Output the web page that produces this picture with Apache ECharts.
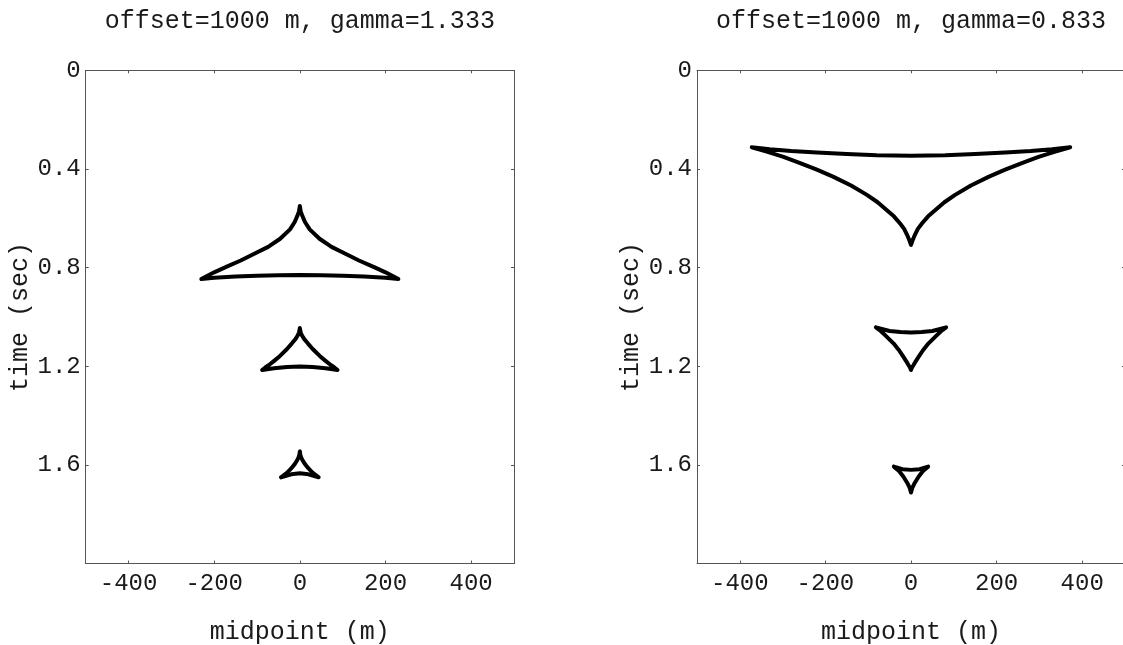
<!DOCTYPE html>
<html>
<head>
<meta charset="utf-8">
<title>Caustics</title>
<script src="https://cdn.jsdelivr.net/npm/echarts@6/dist/echarts.min.js"></script>
<style>
  html, body { margin: 0; padding: 0; background: #fff; }
  #chart { width: 1123px; height: 645px; }
</style>
</head>
<body>
<div id="chart"></div>
<script>
// Axis ticks and labels
const midpointTicks = [-400, -200, 0, 200, 400];
const timeTicks = [0, 0.4, 0.8, 1.2, 1.6];
const panelTitles = ['offset=1000 m, gamma=1.333', 'offset=1000 m, gamma=0.833'];

// Triplication loops, [midpoint (m), time (sec)], each traced as a closed curve
// gamma = 1.333 : cusp pointing up
const loopA1 = [
  [-230, 0.846], [-200, 0.841], [-150, 0.836], [-100, 0.833], [-50, 0.831], [0, 0.830],
  [50, 0.831], [100, 0.833], [150, 0.836], [200, 0.841], [230, 0.846],
  [200, 0.819], [172, 0.797], [138, 0.771], [104, 0.742], [74, 0.716], [46, 0.683],
  [23, 0.645], [12, 0.615], [6, 0.591], [2, 0.572], [0, 0.550],
  [-2, 0.572], [-6, 0.591], [-12, 0.615], [-23, 0.645], [-46, 0.683], [-74, 0.716],
  [-104, 0.742], [-138, 0.771], [-172, 0.797], [-200, 0.819], [-230, 0.846]
];
const loopA2 = [
  [-88, 1.215], [-60, 1.208], [-30, 1.203], [0, 1.201], [30, 1.203], [60, 1.208], [88, 1.215],
  [80, 1.204], [70, 1.192], [60, 1.178], [47, 1.159], [30, 1.130], [19, 1.108],
  [10, 1.089], [5, 1.075], [2, 1.063], [0, 1.045],
  [-2, 1.063], [-5, 1.075], [-10, 1.089], [-19, 1.108], [-30, 1.130], [-47, 1.159],
  [-60, 1.178], [-70, 1.192], [-80, 1.204], [-88, 1.215]
];
const loopA3 = [
  [-44, 1.650], [-20, 1.638], [0, 1.634], [20, 1.638], [44, 1.650],
  [38, 1.642], [31, 1.633], [24, 1.621], [17, 1.608], [11, 1.594], [6, 1.580],
  [3, 1.569], [1, 1.558], [0, 1.545],
  [-1, 1.558], [-3, 1.569], [-6, 1.580], [-11, 1.594], [-17, 1.608], [-24, 1.621],
  [-31, 1.633], [-38, 1.642], [-44, 1.650]
];
// gamma = 0.833 : cusp pointing down
const loopB1 = [
  [-372, 0.312], [-330, 0.320], [-280, 0.327], [-220, 0.333], [-150, 0.339], [-80, 0.344], [0, 0.346],
  [80, 0.344], [150, 0.339], [220, 0.333], [280, 0.327], [330, 0.320], [372, 0.312],
  [337, 0.330], [298, 0.351], [259, 0.376], [220, 0.403], [181, 0.432], [140, 0.467],
  [103, 0.505], [78, 0.535], [57, 0.566], [40, 0.592], [26, 0.620], [16, 0.643],
  [10, 0.664], [4, 0.688], [0, 0.708],
  [-4, 0.688], [-10, 0.664], [-16, 0.643], [-26, 0.620], [-40, 0.592], [-57, 0.566],
  [-78, 0.535], [-103, 0.505], [-140, 0.467], [-181, 0.432], [-220, 0.403], [-259, 0.376],
  [-298, 0.351], [-337, 0.330], [-372, 0.312]
];
const loopB2 = [
  [-82, 1.042], [-50, 1.057], [-25, 1.061], [0, 1.063], [25, 1.061], [50, 1.057], [82, 1.042],
  [70, 1.058], [57, 1.080], [41, 1.107], [28, 1.135], [18, 1.161], [11, 1.180],
  [6, 1.195], [2, 1.206], [0, 1.215],
  [-2, 1.206], [-6, 1.195], [-11, 1.180], [-18, 1.161], [-28, 1.135], [-41, 1.107],
  [-57, 1.080], [-70, 1.058], [-82, 1.042]
];
const loopB3 = [
  [-40, 1.607], [-20, 1.617], [0, 1.620], [20, 1.617], [40, 1.607],
  [28, 1.625], [18, 1.647], [9, 1.672], [3, 1.693], [0, 1.712],
  [-3, 1.693], [-9, 1.672], [-18, 1.647], [-28, 1.625], [-40, 1.607]
];

const panels = [
  { loops: [loopA1, loopA2, loopA3], grid: { left: 85.7, top: 70.3, width: 428.3, height: 493.3 } },
  { loops: [loopB1, loopB2, loopB3], grid: { left: 697, top: 70.3, width: 428, height: 493.3 } }
];

const FONT = "'Liberation Mono', 'DejaVu Sans Mono', monospace";
const TEXT = '#1a1a1a';
const FRAME = '#555';

const frameLine = { show: true, onZero: false, lineStyle: { color: FRAME, width: 1 } };
const innerTick = (vals) => ({ show: true, inside: true, length: 3, customValues: vals, lineStyle: { color: FRAME, width: 1 } });

const grids = [], xAxes = [], yAxes = [], series = [], graphics = [];

panels.forEach((p, i) => {
  grids.push(Object.assign({ containLabel: false, outerBoundsMode: 'none' }, p.grid));

  // bottom axis with labels + mirrored top axis (ticks only)
  xAxes.push({
    type: 'value', gridIndex: i, position: 'bottom', min: -500, max: 500,
    axisLine: frameLine, axisTick: innerTick(midpointTicks),
    axisLabel: { customValues: midpointTicks, margin: 8, fontFamily: FONT, fontSize: 24, color: TEXT },
    splitLine: { show: false },
    name: 'midpoint (m)', nameLocation: 'middle', nameGap: 56,
    nameTextStyle: { fontFamily: FONT, fontSize: 25, color: TEXT }
  });
  xAxes.push({
    type: 'value', gridIndex: i, position: 'top', min: -500, max: 500,
    axisLine: frameLine, axisTick: innerTick(midpointTicks),
    axisLabel: { show: false }, splitLine: { show: false }
  });

  // left time axis (downwards) with labels + mirrored right axis
  yAxes.push({
    type: 'value', gridIndex: i, position: 'left', min: 0, max: 2, inverse: true,
    axisLine: frameLine, axisTick: innerTick(timeTicks),
    axisLabel: { customValues: timeTicks, margin: 5, fontFamily: FONT, fontSize: 24, color: TEXT,
                 formatter: v => (v === 0 ? '0' : v.toFixed(1)) },
    splitLine: { show: false },
    name: 'time (sec)', nameLocation: 'middle', nameGap: 53,
    nameTextStyle: { fontFamily: FONT, fontSize: 25, color: TEXT }
  });
  yAxes.push({
    type: 'value', gridIndex: i, position: 'right', min: 0, max: 2, inverse: true,
    axisLine: frameLine, axisTick: innerTick(timeTicks),
    axisLabel: { show: false }, splitLine: { show: false }
  });

  p.loops.forEach(loop => {
    series.push({
      type: 'line', xAxisIndex: 2 * i, yAxisIndex: 2 * i, data: loop,
      showSymbol: false, symbol: 'none', silent: true, animation: false,
      lineStyle: { color: '#000', width: 4, cap: 'round', join: 'round' }
    });
  });

  graphics.push({
    type: 'text', x: p.grid.left + p.grid.width / 2, y: 21,
    style: { text: panelTitles[i], font: "25px " + FONT, fill: TEXT,
             textAlign: 'center', textVerticalAlign: 'middle' }
  });
});

const chart = echarts.init(document.getElementById('chart'), null, { renderer: 'canvas' });
chart.setOption({
  animation: false,
  backgroundColor: '#fff',
  grid: grids,
  xAxis: xAxes,
  yAxis: yAxes,
  series: series,
  graphic: graphics
});
</script>
</body>
</html>
